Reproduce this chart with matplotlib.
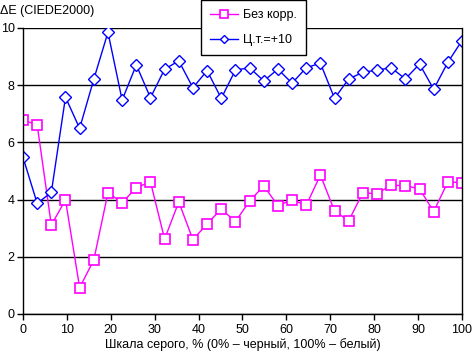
import numpy as np
import matplotlib.pyplot as plt

plt.rcParams['font.family'] = ['Liberation Sans', 'DejaVu Sans']

x = np.linspace(0, 100, 32)
bez_korr = [6.78, 6.62, 3.11, 3.99, 0.92, 1.89, 4.24, 3.89, 4.42, 4.62,
            2.62, 3.92, 2.60, 3.15, 3.67, 3.23, 3.95, 4.48, 3.79, 3.99,
            3.80, 4.86, 3.60, 3.26, 4.24, 4.20, 4.51, 4.48, 4.38, 3.58,
            4.62, 4.59]
ct_plus10 = [5.48, 3.87, 4.25, 7.58, 6.49, 8.21, 9.85, 7.48, 8.71, 7.56,
             8.56, 8.85, 7.91, 8.51, 7.54, 8.53, 8.61, 8.15, 8.56, 8.07,
             8.61, 8.77, 7.54, 8.22, 8.45, 8.53, 8.61, 8.22, 8.74, 7.86,
             8.80, 9.56]

fig = plt.figure(figsize=(4.72, 3.57), dpi=100)
ax = fig.add_axes([23 / 472, 1 - 314 / 357, 439 / 472, 286 / 357])

ax.plot(x, bez_korr, color='#FF00FF', lw=1, marker='s', ms=7,
        mfc='white', mec='#FF00FF', mew=1.2, label='Без корр.')
ax.plot(x, ct_plus10, color='#0000FF', lw=1, marker='D', ms=6,
        mfc='white', mec='#0000FF', mew=1, label='Ц.т.=+10')

ax.set_xlim(0, 100)
ax.set_ylim(0, 10)
ax.set_xticks(range(0, 101, 10))
ax.set_yticks(range(0, 11, 2))
ax.yaxis.grid(True, color='black', lw=1)
ax.set_axisbelow(True)
ax.spines['top'].set_visible(False)
for s in ['left', 'right', 'bottom']:
    ax.spines[s].set_linewidth(1)
ax.tick_params(labelsize=9, length=4, width=1, direction='out')
ax.tick_params(axis='y', pad=2)
ax.set_xlabel('Шкала серого, % (0% – черный, 100% – белый)', fontsize=9, labelpad=1)

fig.text(0.0, 1 - 11 / 357, 'ΔE (CIEDE2000)', fontsize=9, va='center', ha='left')

leg = ax.legend(loc='upper left', bbox_to_anchor=(201 / 472, 1.0), bbox_transform=fig.transFigure,
                fontsize=9, frameon=True, fancybox=False, edgecolor='black', framealpha=1,
                borderaxespad=0, handlelength=2.2, handletextpad=0.4, labelspacing=1.0,
                borderpad=0.75, markerscale=0.75)
leg.get_frame().set_linewidth(1)

fig.savefig('out.png', dpi=100)
